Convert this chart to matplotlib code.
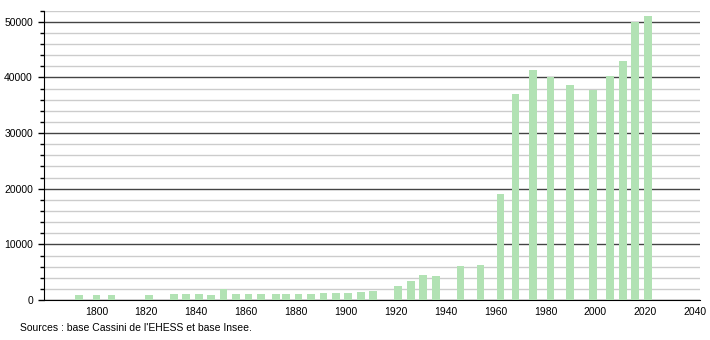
import matplotlib.pyplot as plt
from matplotlib.ticker import MultipleLocator, FixedLocator

plt.rcParams['font.family'] = ['Liberation Sans', 'DejaVu Sans']

# census years and population
years = [1793, 1800, 1806, 1821, 1831, 1836, 1841, 1846, 1851, 1856,
         1861, 1866, 1872, 1876, 1881, 1886, 1891, 1896, 1901, 1906,
         1911, 1921, 1926, 1931, 1936, 1946, 1954, 1962, 1968, 1975,
         1982, 1990, 1999, 2006, 2011, 2016, 2021]
population = [960, 960, 960, 960, 1140, 1140, 1140, 960, 1980, 1140,
              1140, 1140, 1140, 1140, 1140, 1140, 1320, 1320, 1320, 1440,
              1620, 2520, 3420, 4500, 4320, 6120, 6300, 19090, 37040, 41290,
              40030, 38590, 37810, 40270, 42970, 50000, 51080]
x_ticks = [1800, 1820, 1840, 1860, 1880, 1900, 1920, 1940, 1960, 1980, 2000, 2020, 2040]
source_text = "Sources : base Cassini de l'EHESS et base Insee."

fig = plt.figure(figsize=(7.1, 3.4), dpi=100)
ax = fig.add_axes([0.062, 0.1176, 0.924, 0.851])

ax.bar(years, population, width=3.1, color='#b2e2b4', zorder=3)

ax.set_xlim(1779, 2042)
ax.set_ylim(0, 52000)
ax.xaxis.set_major_locator(FixedLocator(x_ticks))
ax.yaxis.set_major_locator(MultipleLocator(10000))
ax.yaxis.set_minor_locator(MultipleLocator(2000))

ax.grid(which='minor', axis='y', color='#cccccc', linewidth=1, zorder=0)
ax.grid(which='major', axis='y', color='#444444', linewidth=1, zorder=1)

for side in ['top', 'right']:
    ax.spines[side].set_visible(False)
ax.spines['left'].set_color('black')
ax.spines['bottom'].set_color('black')

ax.tick_params(axis='x', length=0, labelsize=7.5, pad=5)
ax.tick_params(axis='y', which='major', length=4, width=1, labelsize=7.5, pad=4)
ax.tick_params(axis='y', which='minor', length=3, width=1)

fig.text(0.028, 0.035, source_text, fontsize=7.5, ha='left', va='center')

fig.savefig('out.png', dpi=100)
